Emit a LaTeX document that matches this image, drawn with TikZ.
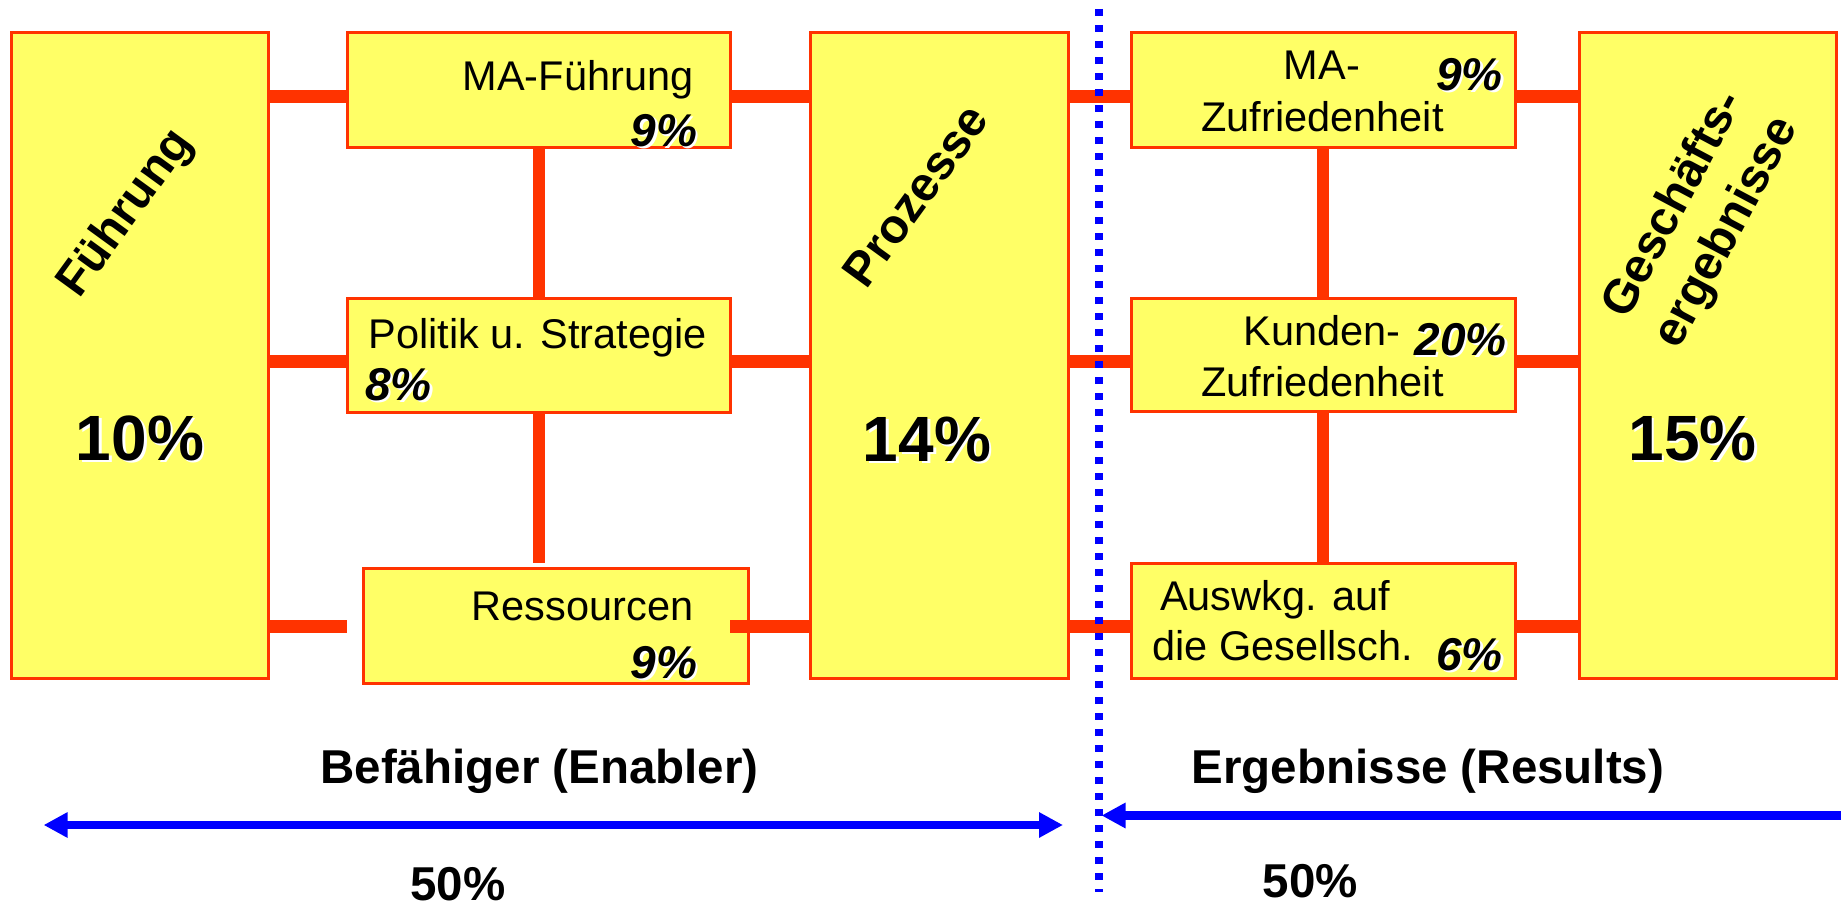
\documentclass[tikz,border=0pt]{standalone}
\usepackage{fontspec}
\setmainfont{Liberation Sans}
\usetikzlibrary{calc,arrows.meta}
\definecolor{boxfill}{HTML}{FFFF66}
\definecolor{boxline}{HTML}{FF3300}
\definecolor{arrblue}{HTML}{0000FF}
\newcommand\shad[1]{\makebox[0pt][l]{\kern2.5pt\raisebox{-2.5pt}{\color{white}#1}}#1}
\begin{document}
\begin{tikzpicture}[x=1pt,y=-1pt,
  box/.style={draw=boxline, fill=boxfill, line width=3pt, inner sep=0pt, outer sep=0pt},
  conn/.style={draw=boxline, line width=13pt},
  vconn/.style={draw=boxline, line width=12pt},
  txt/.style={inner sep=0pt, anchor=base, font=\fontsize{41.5pt}{47pt}\selectfont},
  pct/.style={inner sep=0pt, anchor=base, font=\fontsize{46pt}{50pt}\selectfont\bfseries\itshape},
  big/.style={inner sep=0pt, anchor=base, font=\fontsize{64pt}{70pt}\selectfont\bfseries},
  rot/.style={inner sep=0pt, align=center, font=\fontsize{48pt}{60pt}\selectfont\bfseries},
  lbl/.style={inner sep=0pt, anchor=base, font=\fontsize{47.5pt}{52pt}\selectfont\bfseries},
  dotline/.style={draw=arrblue, line width=8pt, dash pattern=on 7pt off 9pt},
  barrow/.style={draw=arrblue, line width=8pt, -{Triangle[length=24pt,width=24pt]}},
]
\useasboundingbox (0,0) rectangle (1841,907);

% boxes
\node[box, minimum width=257pt, minimum height=645pt] (fuehrung) at (139.5,355.5) {};
\node[box, minimum width=383pt, minimum height=114pt] (mafuehrung) at (538.5,90) {};
\node[box, minimum width=383pt, minimum height=114pt] (politik) at (538.5,355) {};
\node[box, minimum width=385pt, minimum height=115pt] (ressourcen) at (555.5,625.5) {};
\node[box, minimum width=258pt, minimum height=645pt] (prozesse) at (939,355.5) {};
\node[box, minimum width=384pt, minimum height=114pt] (mazufr) at (1323,90) {};
\node[box, minimum width=384pt, minimum height=113pt] (kunden) at (1323,354.5) {};
\node[box, minimum width=384pt, minimum height=115pt] (auswkg) at (1323,620.5) {};
\node[box, minimum width=257pt, minimum height=645pt] (geschaeft) at (1707.5,355.5) {};

% row coordinates
\coordinate (r1) at (0,96.5);
\coordinate (r2) at (0,361.5);
\coordinate (r3) at (0,626.5);

% connectors
\draw[conn] (fuehrung.east |- r1) -- (mafuehrung.west |- r1);
\draw[conn] (fuehrung.east |- r2) -- (politik.west |- r2);
\draw[conn] (fuehrung.east |- r3) -- (mafuehrung.west |- r3);
\draw[conn] (mafuehrung.east |- r1) -- (prozesse.west |- r1);
\draw[conn] (politik.east |- r2) -- (prozesse.west |- r2);
\draw[conn] (mafuehrung.east |- r3) -- (prozesse.west |- r3);
\draw[conn] (prozesse.east |- r1) -- (mazufr.west |- r1);
\draw[conn] (prozesse.east |- r2) -- (kunden.west |- r2);
\draw[conn] (prozesse.east |- r3) -- (auswkg.west |- r3);
\draw[conn] (mazufr.east |- r1) -- (geschaeft.west |- r1);
\draw[conn] (kunden.east |- r2) -- (geschaeft.west |- r2);
\draw[conn] (auswkg.east |- r3) -- (geschaeft.west |- r3);
\draw[vconn] (mafuehrung.south) -- (politik.north);
\draw[vconn] (politik.south) -- ($(politik.south |- ressourcen.north)+(0,-5)$);
\draw[vconn] (mazufr.south) -- (kunden.north);
\draw[vconn] (kunden.south) -- (auswkg.north);

% texts in boxes
\node[txt] (t-maf) at (578,90) {MA-Führung};
\node[pct] (p-maf) at (664,146) {\shad{9\%}};
\node[txt] (t-pol) at (537.5,348) {Politik u. Strategie};
\node[pct] (p-pol) at (398.5,400) {\shad{8\%}};
\node[txt] (t-res) at (582.5,620) {Ressourcen};
\node[pct] (p-res) at (664,678) {\shad{9\%}};
\node[txt] (t-maz1) at (1322,80) {MA-};
\node[txt] (t-maz2) at (1322.5,131) {Zufriedenheit};
\node[pct] (p-maz) at (1469.5,90) {\shad{9\%}};
\node[txt] (t-kun1) at (1322,345) {Kunden-};
\node[txt] (t-kun2) at (1322.5,396) {Zufriedenheit};
\node[pct] (p-kun) at (1460.5,355) {\shad{20\%}};
\node[txt] (t-aus1) at (1275,610) {Auswkg. auf};
\node[txt] (t-aus2) at (1282.5,660) {die Gesellsch.};
\node[pct] (p-aus) at (1469.5,670) {\shad{6\%}};

\node[big] (p-fue) at (140,460) {\shad{10\%}};
\node[big] (p-pro) at (927,461) {\shad{14\%}};
\node[big] (p-ges) at (1692.5,460) {\shad{15\%}};

\node[rot, rotate=54] (l-fue) at (126.5,214) {Führung};
\node[rot, rotate=54] (l-pro) at (915.5,195.5) {Prozesse};
\node[rot, rotate=62] (l-ges) at (1701,219) {Geschäfts-\\ergebnisse};

% divider and arrows
\coordinate (dtop) at (1099,9);
\coordinate (dbot) at (1099,892);
\draw[dotline] (dtop) -- (dbot);
\coordinate (la) at (43.6,825);
\coordinate (lb) at (1063,825);
\draw[barrow, {Triangle[length=24pt,width=24pt]}-{Triangle[length=24pt,width=24pt]}] (la) -- (lb);
\coordinate (ra) at (1841,815.5);
\coordinate (rb) at (1101.5,815.5);
\draw[barrow, line width=9pt] (ra) -- (rb);

% bottom labels
\node[lbl] (l-enab) at (539.5,783) {Befähiger (Enabler)};
\node[lbl] (l-resu) at (1428,783) {Ergebnisse (Results)};
\node[lbl] (l-50a) at (458,900) {50\%};
\node[lbl] (l-50b) at (1310.5,897) {50\%};
\end{tikzpicture}
\end{document}
